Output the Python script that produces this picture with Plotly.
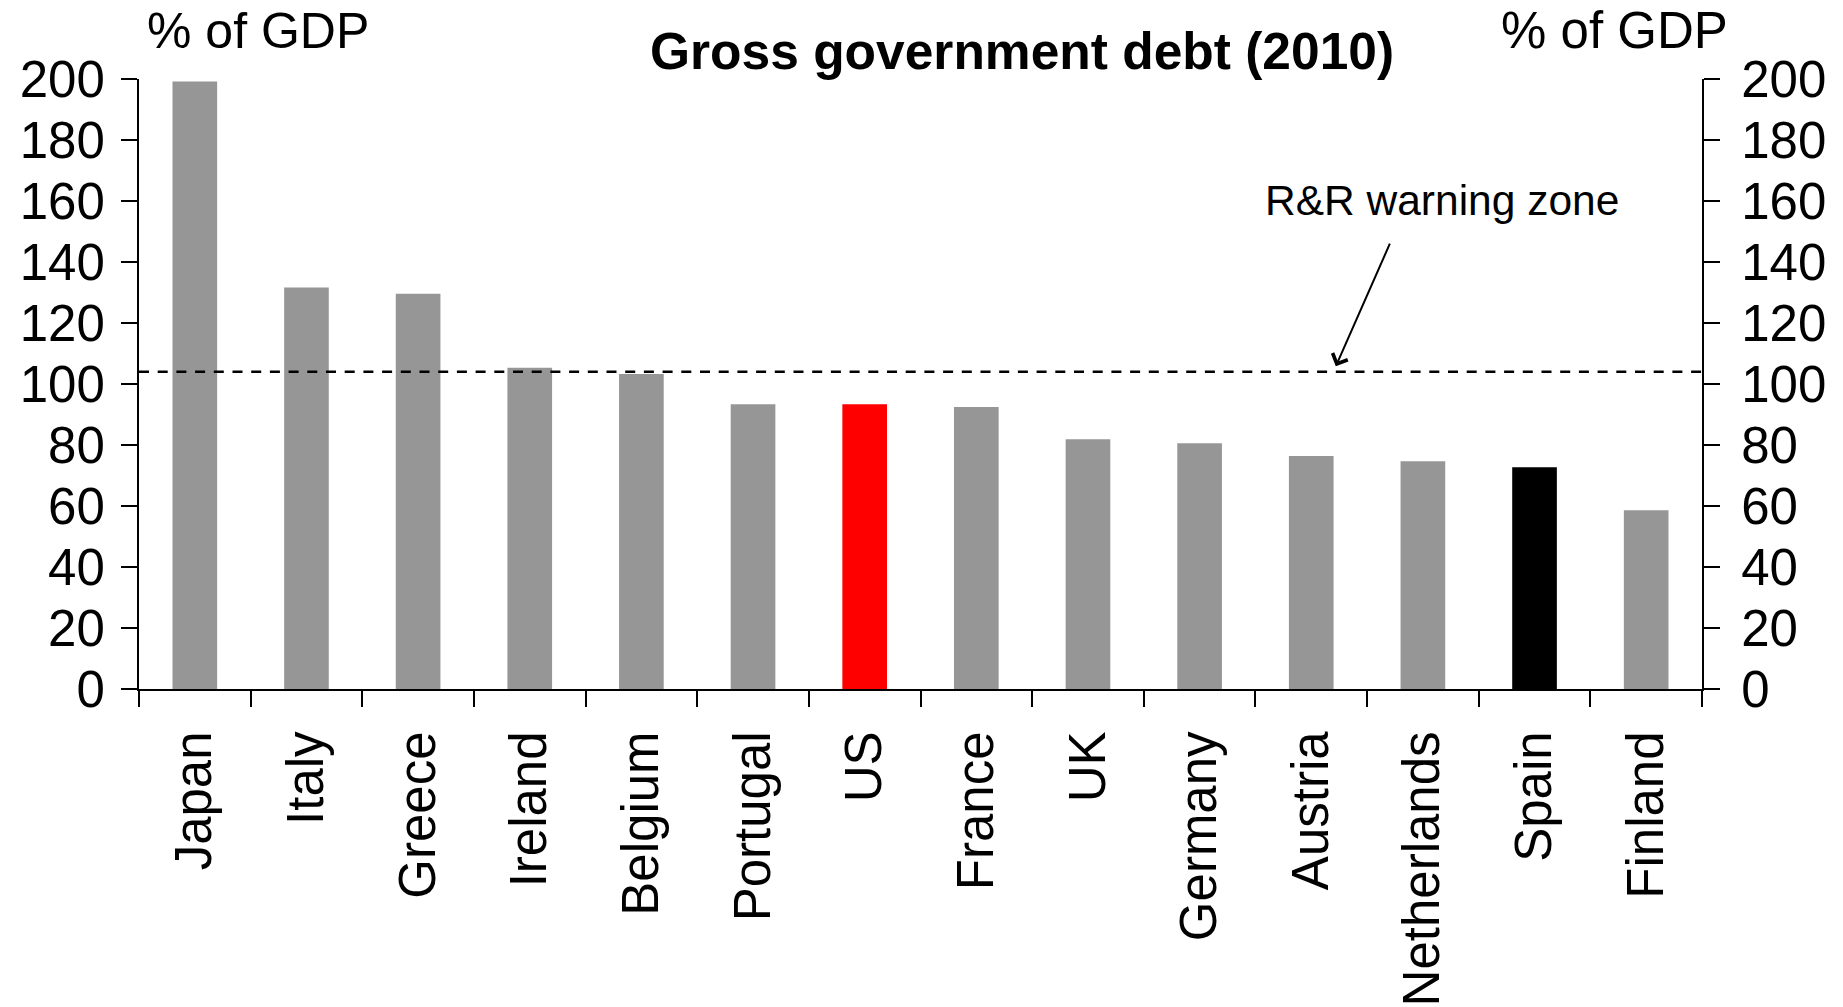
import plotly.graph_objects as go

# Gross government debt, 2010, % of GDP
countries = ["Japan", "Italy", "Greece", "Ireland", "Belgium", "Portugal", "US",
             "France", "UK", "Germany", "Austria", "Netherlands", "Spain", "Finland"]
debt_pct_gdp = [199.2, 131.6, 129.6, 105.3, 103.3, 93.4, 93.4,
                92.5, 81.9, 80.6, 76.4, 74.7, 72.7, 58.6]
bar_colors = ["#969696"] * 6 + ["#FF0000"] + ["#969696"] * 5 + ["#000000", "#969696"]

warning_level = 104  # R&R warning zone threshold line
y_ticks = [0, 20, 40, 60, 80, 100, 120, 140, 160, 180, 200]

FONT = "Liberation Sans, Arial, sans-serif"

fig = go.Figure()
fig.add_trace(go.Bar(
    x=countries,
    y=debt_pct_gdp,
    marker=dict(color=bar_colors, line=dict(width=0)),
    width=0.4,
    showlegend=False,
    hoverinfo="x+y",
))
# transparent copy on the right-hand axis so that axis gets drawn
fig.add_trace(go.Scatter(
    x=countries,
    y=debt_pct_gdp,
    yaxis="y2",
    mode="markers",
    marker=dict(opacity=0),
    showlegend=False,
    hoverinfo="skip",
))

axis_common = dict(
    range=[0, 200],
    tickvals=y_ticks,
    ticks="outside",
    ticklen=16,
    tickwidth=2,
    tickcolor="black",
    showline=True,
    linecolor="black",
    linewidth=2,
    showgrid=False,
    zeroline=False,
    automargin=False,
    tickfont=dict(family=FONT, size=51, color="black"),
)

fig.update_layout(
    width=1843,
    height=1007,
    margin=dict(l=139, r=141, t=79, b=318),
    paper_bgcolor="white",
    plot_bgcolor="white",
    xaxis=dict(
        type="category",
        range=[-0.5, len(countries) - 0.5],
        tickangle=-90,
        ticks="outside",
        tickson="boundaries",
        ticklen=16,
        tickwidth=2,
        tickcolor="black",
        showline=True,
        linecolor="black",
        linewidth=2,
        showgrid=False,
        automargin=False,
        tickfont=dict(family=FONT, size=51, color="black"),
        ticklabelstandoff=20,
    ),
    yaxis=dict(**axis_common, side="left", ticklabelstandoff=6),
    yaxis2=dict(**axis_common, side="right", overlaying="y", anchor="x",
                ticklabelstandoff=11),
    shapes=[
        dict(type="line", xref="paper", yref="y", x0=0, x1=1,
             y0=warning_level, y1=warning_level,
             line=dict(color="black", width=2.5, dash="10px,8.7px")),
    ],
    annotations=[
        dict(text="<b>Gross government debt (2010)</b>", xref="paper", yref="paper",
             x=0.565, y=1.046, xanchor="center", yanchor="middle", showarrow=False,
             font=dict(family=FONT, size=51.5, color="black")),
        dict(text="% of GDP", xref="paper", yref="paper",
             x=0.004, y=1.079, xanchor="left", yanchor="middle", showarrow=False,
             font=dict(family=FONT, size=50, color="black")),
        dict(text="% of GDP", xref="paper", yref="paper",
             x=1.018, y=1.079, xanchor="right", yanchor="middle", showarrow=False,
             font=dict(family=FONT, size=51, color="black")),
        dict(text="R&R warning zone", xref="paper", yref="y",
             x=0.7194, y=160.3, xanchor="left", yanchor="middle", showarrow=False,
             font=dict(family=FONT, size=42.5, color="black")),
        dict(text="", xref="x", yref="y", x=10.22, y=105.8,
             axref="x", ayref="y", ax=10.71, ay=146.5,
             showarrow=True, arrowhead=4, arrowsize=1.6, arrowwidth=2,
             arrowcolor="black"),
    ],
)

fig.write_html("out.html")
